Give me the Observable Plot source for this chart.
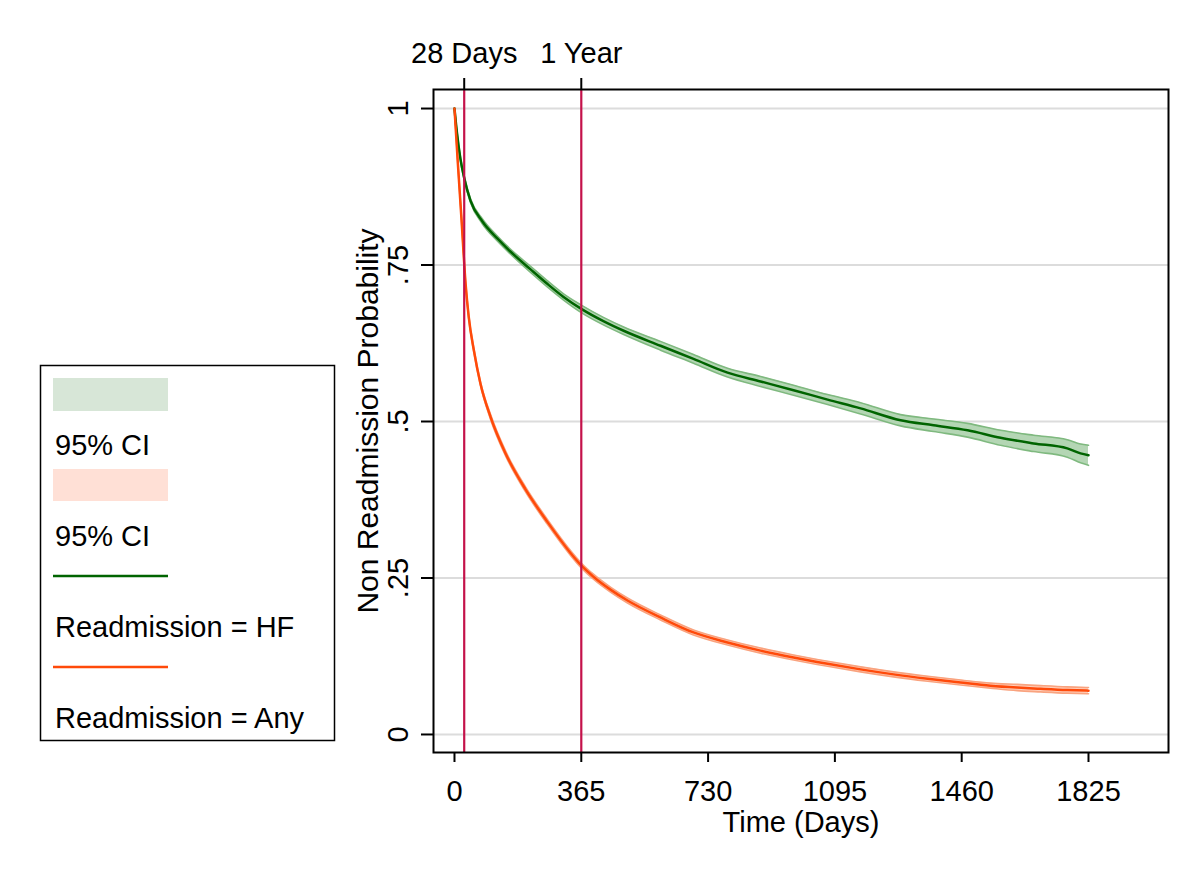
<!DOCTYPE html>
<html>
<head>
<meta charset="utf-8">
<script src="https://cdn.jsdelivr.net/npm/d3@7"></script>
<script src="https://cdn.jsdelivr.net/npm/@observablehq/plot@0.6"></script>
<style>
  body { margin: 0; background: #fff; font-family: "Liberation Sans", Arial, sans-serif; }
  #wrap { position: relative; width: 1200px; height: 872px; overflow: hidden; }
  #wrap > svg { position: absolute; left: 0; top: 0; }
</style>
</head>
<body>
<div id="wrap"></div>
<script>
// ---- data ----
// Readmission = HF
const hfTime = [0, 7, 17, 28, 46, 80, 124, 160, 219, 267, 314, 365, 430, 487, 593, 688, 786, 881, 976, 1074, 1169, 1284, 1379, 1477, 1572, 1667, 1764, 1802, 1825];
const hf     = [1.000, 0.962, 0.920, 0.889, 0.853, 0.820, 0.792, 0.772, 0.743, 0.720, 0.699, 0.680, 0.660, 0.645, 0.621, 0.600, 0.578, 0.564, 0.550, 0.535, 0.521, 0.502, 0.494, 0.486, 0.474, 0.465, 0.457, 0.449, 0.446];
const hfLo   = [1.000, 0.960, 0.917, 0.886, 0.850, 0.816, 0.788, 0.768, 0.738, 0.715, 0.694, 0.674, 0.654, 0.639, 0.614, 0.593, 0.571, 0.556, 0.542, 0.527, 0.512, 0.493, 0.484, 0.475, 0.462, 0.452, 0.443, 0.434, 0.430];
const hfHi   = [1.000, 0.964, 0.923, 0.892, 0.856, 0.824, 0.796, 0.776, 0.748, 0.725, 0.704, 0.686, 0.666, 0.651, 0.628, 0.607, 0.585, 0.572, 0.558, 0.543, 0.530, 0.511, 0.504, 0.497, 0.486, 0.478, 0.471, 0.464, 0.462];
// Readmission = Any
const anyTime = [0, 10, 20, 32, 41, 56, 75, 104, 147, 204, 267, 334, 365, 400, 450, 498, 593, 688, 786, 881, 976, 1074, 1169, 1264, 1362, 1457, 1543, 1620, 1687, 1764, 1825];
const anyR    = [1.000, 0.910, 0.825, 0.720, 0.667, 0.613, 0.560, 0.507, 0.449, 0.392, 0.340, 0.290, 0.270, 0.252, 0.231, 0.214, 0.187, 0.163, 0.147, 0.134, 0.123, 0.113, 0.104, 0.096, 0.089, 0.083, 0.078, 0.075, 0.073, 0.071, 0.070];
const anyLo   = [1.000, 0.908, 0.822, 0.717, 0.664, 0.610, 0.557, 0.503, 0.445, 0.388, 0.336, 0.286, 0.266, 0.248, 0.227, 0.210, 0.183, 0.159, 0.143, 0.130, 0.119, 0.109, 0.100, 0.092, 0.085, 0.079, 0.074, 0.070, 0.068, 0.066, 0.065];
const anyHi   = [1.000, 0.912, 0.828, 0.723, 0.670, 0.616, 0.563, 0.511, 0.453, 0.396, 0.344, 0.294, 0.274, 0.256, 0.235, 0.218, 0.191, 0.167, 0.151, 0.138, 0.127, 0.117, 0.108, 0.100, 0.093, 0.087, 0.082, 0.080, 0.078, 0.076, 0.075];

const xTicks = [0, 365, 730, 1095, 1460, 1825];
const yTicks = [0, 0.25, 0.5, 0.75, 1];
const yTickLabels = ["0", ".25", ".5", ".75", "1"];
const refDays = [28, 365];
const refLabels = ["28 Days", "1 Year"];
const xLabel = "Time (Days)";
const yLabel = "Non Readmission Probability";
const legendLabels = ["95% CI", "95% CI", "Readmission = HF", "Readmission = Any"];

// ---- build rows ----
const hfRows  = hfTime.map((t, i) => ({t, v: hf[i],   lo: hfLo[i],  hi: hfHi[i]}));
const anyRows = anyTime.map((t, i) => ({t, v: anyR[i], lo: anyLo[i], hi: anyHi[i]}));

const FONT = "Liberation Sans, Arial, sans-serif";
const FS = 29;
const CURVE = "monotone-x";

const chart = Plot.plot({
  width: 1200, height: 872,
  marginLeft: 433, marginRight: 32, marginTop: 89, marginBottom: 120,
  style: {fontFamily: FONT, fontSize: FS + "px", color: "#000", background: "transparent", overflow: "visible"},
  x: {domain: [-60.4, 2055.3]},
  y: {domain: [-0.0288, 1.0304]},
  marks: [
    Plot.ruleY(yTicks, {y: d => d, stroke: "#dcdcdc", strokeWidth: 2}),
    Plot.areaY(hfRows, {x: "t", y1: "lo", y2: "hi", fill: "#b4d6b4", curve: CURVE}),
    Plot.lineY(hfRows, {x: "t", y: "lo", stroke: "#7fb97f", strokeWidth: 1.6, curve: CURVE}),
    Plot.lineY(hfRows, {x: "t", y: "hi", stroke: "#7fb97f", strokeWidth: 1.6, curve: CURVE}),
    Plot.areaY(anyRows, {x: "t", y1: "lo", y2: "hi", fill: "#ffcdb8", curve: CURVE}),
    Plot.lineY(anyRows, {x: "t", y: "lo", stroke: "#f9a37f", strokeWidth: 1.6, curve: CURVE}),
    Plot.lineY(anyRows, {x: "t", y: "hi", stroke: "#f9a37f", strokeWidth: 1.6, curve: CURVE}),
    Plot.lineY(hfRows, {x: "t", y: "v", stroke: "#006400", strokeWidth: 2.5, curve: CURVE}),
    Plot.lineY(anyRows, {x: "t", y: "v", stroke: "#ff4a0a", strokeWidth: 2.5, curve: CURVE}),
    Plot.ruleX(refDays, {x: d => d, stroke: "#c4124a", strokeWidth: 2.2}),
    Plot.frame({stroke: "#000", strokeWidth: 2}),
    Plot.axisX({ticks: xTicks, tickSize: 10, tickPadding: 18, strokeWidth: 2, tickFormat: d => String(d), label: null, fontSize: FS}),
    Plot.axisX({anchor: "top", ticks: refDays, tickSize: 12, strokeWidth: 2, tickFormat: () => "", label: null}),
    Plot.text(refDays, {x: d => d, text: (d, i) => refLabels[i], frameAnchor: "top", dy: -36, lineAnchor: "middle", textAnchor: "middle", fontSize: FS}),
    Plot.axisY({ticks: yTicks, tickSize: 12, strokeWidth: 2, tickFormat: () => "", label: null}),
    Plot.text(yTicks, {y: d => d, text: (d, i) => yTickLabels[i], frameAnchor: "left", dx: -35, rotate: -90, textAnchor: "middle", lineAnchor: "middle", fontSize: FS}),
    Plot.text([xLabel], {text: d => d, frameAnchor: "bottom", dy: 70, lineAnchor: "middle", textAnchor: "middle", fontSize: FS}),
    Plot.text([yLabel], {text: d => d, frameAnchor: "left", dx: -65, rotate: -90, textAnchor: "middle", lineAnchor: "middle", fontSize: 30})
  ]
});
document.getElementById("wrap").appendChild(chart);

// ---- legend (left box) ----
const leg = d3.select("#wrap").append("svg")
  .attr("width", 1200).attr("height", 872)
  .style("position", "absolute").style("left", "0px").style("top", "0px")
  .style("pointer-events", "none");
leg.append("rect").attr("x", 40.5).attr("y", 365.5).attr("width", 294).attr("height", 375)
  .attr("fill", "none").attr("stroke", "#000").attr("stroke-width", 1.5);
leg.append("rect").attr("x", 53).attr("y", 378).attr("width", 115).attr("height", 33).attr("fill", "#d7e6d7");
leg.append("rect").attr("x", 53).attr("y", 469).attr("width", 115).attr("height", 32).attr("fill", "#ffe0d6");
leg.append("line").attr("x1", 53).attr("x2", 168).attr("y1", 576).attr("y2", 576).attr("stroke", "#006400").attr("stroke-width", 2.5);
leg.append("line").attr("x1", 53).attr("x2", 168).attr("y1", 667).attr("y2", 667).attr("stroke", "#ff4a0a").attr("stroke-width", 2.5);
const baselines = [455, 546, 637, 728];
legendLabels.forEach((s, i) => {
  leg.append("text").attr("x", 55).attr("y", baselines[i])
    .attr("font-family", FONT).attr("font-size", FS).attr("fill", "#000").text(s);
});
</script>
</body>
</html>
